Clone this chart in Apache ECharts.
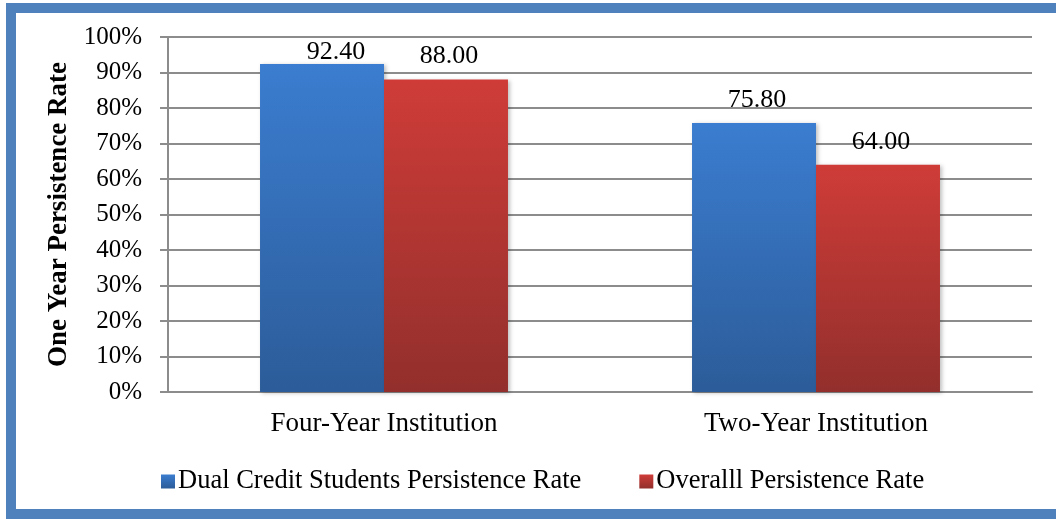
<!DOCTYPE html>
<html>
<head>
<meta charset="utf-8">
<script src="https://cdn.jsdelivr.net/npm/echarts@6/dist/echarts.min.js"></script>
<style>
  html, body { margin: 0; padding: 0; background: #fff; }
  #chart { width: 1056px; height: 519px; }
</style>
</head>
<body>
<div id="chart"></div>
<script>
const categories = ['Four-Year Institution', 'Two-Year Institution'];
const dualCredit = [92.4, 75.8];
const overall = [88.0, 64.0];
const seriesNames = ['Dual Credit Students Persistence Rate', 'Overalll Persistence Rate'];

const font = 'Liberation Serif, Times New Roman, serif';

function grad(top, bottom) {
    return new echarts.graphic.LinearGradient(0, 0, 0, 1, [
        { offset: 0, color: top },
        { offset: 1, color: bottom }
    ]);
}

const blue = grad('#3b7dd0', '#2c5c99');
const red = grad('#cf3c38', '#922f2c');

const chart = echarts.init(document.getElementById('chart'));

// labelShift: nudges a crowded label (the tallest bar sits near the top of the plot)
function barSeries(name, data, color, labelShift) {
    return {
        name: name,
        type: 'bar',
        data: data.map((v, i) => {
            if (labelShift && labelShift[i]) {
                return { value: v, label: { offset: labelShift[i] } };
            }
            return v;
        }),
        barGap: 0,
        barCategoryGap: '42.6%',
        itemStyle: {
            color: color,
            shadowBlur: 4,
            shadowOffsetX: 2,
            shadowOffsetY: 1,
            shadowColor: 'rgba(0,0,0,0.25)'
        },
        label: {
            show: true,
            position: 'top',
            distance: 10,
            offset: [3, 0],
            fontFamily: font,
            fontSize: 26,
            color: '#000',
            formatter: p => p.value.toFixed(2)
        }
    };
}

chart.setOption({
    animation: false,
    backgroundColor: '#fff',
    graphic: [{
        type: 'rect',
        shape: { x: 11, y: 8, width: 1080, height: 506 },
        style: { fill: 'none', stroke: '#4f81bd', lineWidth: 10 },
        z: 100
    }],
    grid: {
        left: 168,
        right: 24,
        top: 37,
        bottom: 127
    },
    legend: {
        left: 156,
        top: 463,
        itemWidth: 14,
        itemHeight: 14,
        itemGap: 58,
        icon: 'rect',
        textStyle: { fontFamily: font, fontSize: 26.5, color: '#000', padding: [0, 0, 0, -2] },
        data: seriesNames
    },
    xAxis: {
        type: 'category',
        data: categories,
        axisLine: { lineStyle: { color: '#8c8c8c', width: 2 } },
        axisTick: { show: false },
        axisLabel: {
            margin: 18,
            fontFamily: font,
            fontSize: 27,
            color: '#000'
        }
    },
    yAxis: {
        type: 'value',
        min: 0,
        max: 100,
        interval: 10,
        name: 'One Year Persistence Rate',
        nameLocation: 'middle',
        nameGap: 90,
        nameTextStyle: {
            fontFamily: font,
            fontSize: 27,
            fontWeight: 'bold',
            color: '#000'
        },
        axisLine: { show: true, lineStyle: { color: '#8c8c8c', width: 2 } },
        axisTick: { show: true, inside: false, length: 8, lineStyle: { color: '#8c8c8c', width: 2 } },
        splitLine: { lineStyle: { color: '#8c8c8c', width: 2 } },
        axisLabel: {
            margin: 26,
            fontFamily: font,
            fontSize: 25,
            color: '#000',
            formatter: '{value}%'
        }
    },
    series: [
        barSeries(seriesNames[0], dualCredit, blue, [[14, 11]]),
        barSeries(seriesNames[1], overall, red)
    ]
});
</script>
</body>
</html>
